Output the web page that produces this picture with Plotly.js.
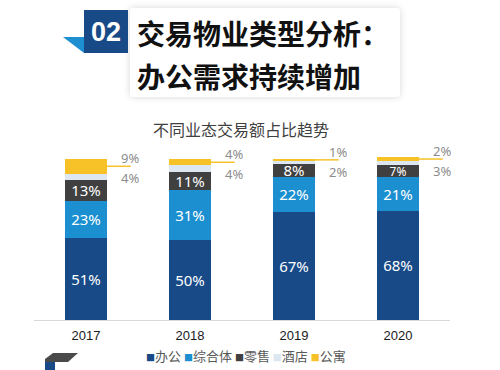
<!DOCTYPE html>
<html>
<head>
<meta charset="utf-8">
<script src="https://cdn.plot.ly/plotly-3.0.1.min.js"></script>
<style>
  html, body { margin: 0; padding: 0; background: #fff; }
  #wrap { position: relative; width: 500px; height: 370px; overflow: hidden; background: #fff; }
  #chart { position: absolute; left: 0; top: 0; width: 500px; height: 370px; }
  .hdr-box { position: absolute; left: 130px; top: 8px; width: 270px; height: 89px; background: #fff;
             box-shadow: 0 0 7px rgba(0,0,0,0.16); border-radius: 3px; }
  .hdr-num { position: absolute; left: 84px; top: 10px; width: 44px; height: 43px; background: #174a87;
             color: #fff; font-family: "Liberation Sans", Arial, sans-serif; font-weight: bold; font-size: 27px;
             line-height: 45px; text-align: center; }
  .hdr-line { position: absolute; left: 137px; font-family: "Noto Sans CJK SC", sans-serif; font-weight: bold;
              font-size: 28px; color: #111; line-height: 40px; white-space: nowrap; }
  svg.deco { position: absolute; left: 0; top: 0; }
</style>
</head>
<body>
<div id="wrap">
  <div id="chart"></div>
  <svg class="deco" width="500" height="370">
    <polygon points="63,37 84,37 84,53" fill="#1e8fd0"/>
    <polygon points="53,353 78,353 68,362 45,362 45,359" fill="#4a4a4a"/>
    <rect x="45" y="362" width="10" height="8" fill="#174a87"/>
  </svg>
  <div class="hdr-box"></div>
  <div class="hdr-num">02</div>
  <div class="hdr-line" style="top:13px;">交易物业类型分析：</div>
  <div class="hdr-line" style="top:56px;">办公需求持续增加</div>
</div>
<script>
// ---- data ----
var years = ['2017', '2018', '2019', '2020'];
var office = [51, 50, 67, 68];
var mixed = [23, 31, 22, 21];
var retail = [13, 11, 8, 7];
var hotel = [4, 4, 2, 3];
var apartment = [9, 4, 1, 2];
var seriesNames = ['办公', '综合体', '零售', '酒店', '公寓'];
var seriesColors = ['#174a87', '#1b8fd0', '#404040', '#dde7f1', '#f7c128'];
var chartTitle = '不同业态交易额占比趋势';

var seriesData = [office, mixed, retail, hotel, apartment];
var labelSizes = [[15, 15, 15, 15], [15, 15, 15, 15], [15, 15, 15, 12]];
var traces = seriesData.map(function (vals, i) {
  var inside = i < 3;
  return {
    type: 'bar',
    name: seriesNames[i],
    x: years,
    y: vals,
    marker: { color: seriesColors[i], line: { width: 0 } },
    texttemplate: inside ? '%{y}%' : '',
    textposition: inside ? 'inside' : 'none',
    insidetextanchor: 'middle',
    textangle: 0,
    constraintext: 'none',
    textfont: { family: 'Noto Sans, Open Sans, sans-serif', size: inside ? labelSizes[i] : 12, color: '#ffffff' },
    hoverinfo: 'skip',
    showlegend: false
  };
});

var annotations = [];
var shapes = [];
years.forEach(function (yr, k) {
  var base = office[k] + mixed[k] + retail[k];
  var aptMid = base + hotel[k] + apartment[k] / 2;
  annotations.push({
    x: k, y: aptMid, xref: 'x', yref: 'y', text: String(apartment[k]) + '%',
    showarrow: false, xanchor: 'left', yanchor: 'bottom', xshift: 33, yshift: -3,
    font: { family: 'Noto Sans, sans-serif', size: 13, color: '#8c8c8c' }
  });
  annotations.push({
    x: k, y: aptMid, xref: 'x', yref: 'y', text: String(hotel[k]) + '%',
    showarrow: false, xanchor: 'left', yanchor: 'top', xshift: 33, yshift: -1,
    font: { family: 'Noto Sans, sans-serif', size: 13, color: '#8c8c8c' }
  });
  shapes.push({
    type: 'line', xref: 'x', yref: 'y', x0: k + 0.2, x1: k + 0.43, y0: aptMid, y1: aptMid,
    line: { color: seriesColors[4], width: 1.5 }
  });
});

// legend built from series names/colours
var legendText = seriesNames.map(function (n, i) {
  return '<span style="color:' + seriesColors[i] + ';font-size:9px">■</span>' + n;
}).join(' ');
annotations.push({
  xref: 'paper', yref: 'paper', x: 0.51, y: -0.208, text: legendText, showarrow: false,
  xanchor: 'center', yanchor: 'middle',
  font: { family: 'Noto Sans CJK SC, sans-serif', size: 13, color: '#595959' }
});

var layout = {
  width: 500, height: 370,
  margin: { l: 34, r: 50, t: 151, b: 50 },
  paper_bgcolor: 'rgba(0,0,0,0)',
  plot_bgcolor: 'rgba(0,0,0,0)',
  barmode: 'stack',
  bargap: 0.6,
  showlegend: false,
  title: {
    text: chartTitle, x: 0.482, xanchor: 'center', xref: 'container',
    y: 1 - 130 / 370, yanchor: 'middle', yref: 'container',
    font: { family: 'Noto Sans CJK SC, sans-serif', size: 16, color: '#404040' }
  },
  xaxis: {
    type: 'category', range: [-0.5, 3.5], showline: true, linecolor: '#d9d9d9', linewidth: 1,
    ticks: '', showgrid: false, zeroline: false, ticklabelstandoff: 3,
    tickfont: { family: 'Liberation Sans, Arial, sans-serif', size: 13, color: '#1a1a1a' }
  },
  yaxis: { range: [0, 105], visible: false, showgrid: false, zeroline: false },
  annotations: annotations,
  shapes: shapes
};

Plotly.newPlot('chart', traces, layout, { displayModeBar: false, staticPlot: true });
</script>
</body>
</html>
